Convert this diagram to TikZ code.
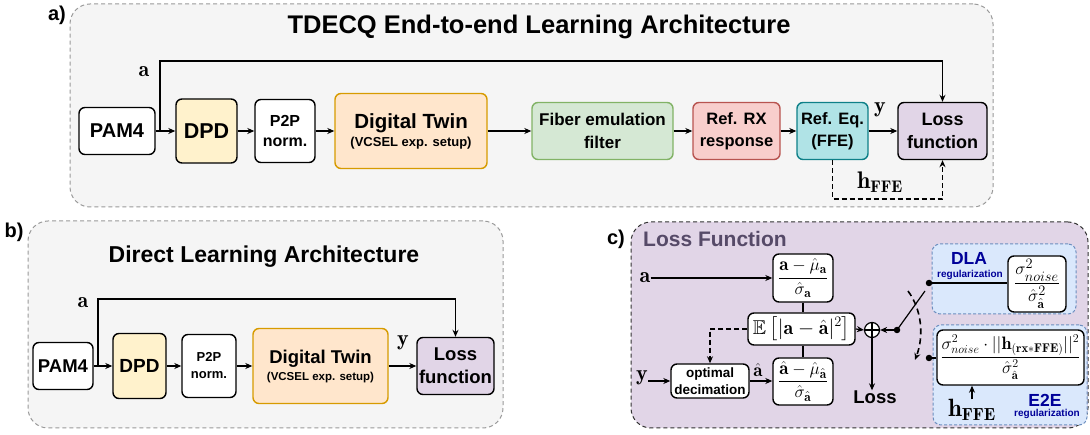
\documentclass[tikz,border=0pt]{standalone}
\usepackage{amsmath,amssymb}
\usepackage{fontspec}
\setsansfont{Liberation Sans}
\usetikzlibrary{arrows.meta}
\definecolor{panelfill}{HTML}{F5F5F5}
\definecolor{panelgray}{HTML}{9A9A9A}
\definecolor{dpdfill}{HTML}{FFF2CC}
\definecolor{dtfill}{HTML}{FFE6CC}
\definecolor{dtdraw}{HTML}{D79B00}
\definecolor{fibfill}{HTML}{D5E8D4}
\definecolor{fibdraw}{HTML}{82B366}
\definecolor{rxfill}{HTML}{F8CECC}
\definecolor{rxdraw}{HTML}{B85450}
\definecolor{ffefill}{HTML}{B0E3E6}
\definecolor{ffedraw}{HTML}{0E8088}
\definecolor{lossfill}{HTML}{E1D5E7}
\definecolor{lftitle}{HTML}{564A68}
\definecolor{regfill}{HTML}{DAE8FC}
\definecolor{regdraw}{HTML}{6C8EBF}
\definecolor{regtext}{HTML}{000099}
\definecolor{cborder}{HTML}{333333}
\newcommand\fsz[2]{\fontsize{#1}{#2}\selectfont}
\begin{document}
\begin{tikzpicture}[x=1pt,y=-1pt,
  panel/.style={draw=panelgray, fill=panelfill, dash pattern=on 4pt off 3pt, line width=1pt, rounded corners=20pt, inner sep=0pt},
  box/.style={draw, fill=white, line width=1.4pt, rounded corners=6pt, align=center, inner sep=1pt, font=\sffamily\bfseries},
  arr/.style={-{Stealth[length=7pt,width=6pt]}, line width=1.2pt},
  dsh/.style={dash pattern=on 5pt off 3pt},
  ln/.style={line width=1.2pt},
  lbl/.style={inner sep=0pt, font=\sffamily\bfseries},
  mlbl/.style={inner sep=0pt, font=\fsz{22}{24}},
  reglbl/.style={inner sep=0pt, font=\sffamily\bfseries, text=regtext},
  dot/.style={circle, fill=black, inner sep=0pt, minimum size=6.5pt},
  mbox/.style={box, inner sep=0pt, font=\fsz{19}{22}},
]
\useasboundingbox (0,0) rectangle (1090,435);

% ---------------- panel a ----------------
\node[panel, minimum width=923pt, minimum height=203pt] (pA) at (531.5,105.5) {};
\node[lbl, font=\sffamily\bfseries\fsz{20}{24}] (labA) at (57,15) {a)};
\node[lbl, font=\sffamily\bfseries\fsz{25.5}{30}] (titA) at (539,27) {TDECQ End-to-end Learning Architecture};

\node[box, minimum width=76pt, minimum height=47pt, font=\sffamily\bfseries\fsz{20}{22}] (pam) at (117,131) {PAM4};
\node[box, fill=dpdfill, minimum width=61pt, minimum height=64pt, font=\sffamily\bfseries\fsz{21.5}{22}] (dpd) at (206.5,131) {DPD};
\node[box, minimum width=60pt, minimum height=63pt, font=\sffamily\bfseries\fsz{16}{20}] (p2p) at (285,131) {P2P\\norm.};
\node[box, draw=dtdraw, fill=dtfill, minimum width=152pt, minimum height=75pt, font=\sffamily\bfseries\fsz{20.5}{18}] (dt) at (411,131) {Digital Twin\\{\fsz{13}{15}(VCSEL exp. setup)}};
\node[box, draw=fibdraw, fill=fibfill, minimum width=141pt, minimum height=57pt, font=\sffamily\bfseries\fsz{17}{23}] (fib) at (602.5,131) {Fiber emulation\\filter};
\node[box, draw=rxdraw, fill=rxfill, minimum width=87pt, minimum height=57pt, font=\sffamily\bfseries\fsz{16.5}{22}] (rx) at (736.5,131) {Ref. RX\\response};
\node[box, draw=ffedraw, fill=ffefill, minimum width=71pt, minimum height=57pt, font=\sffamily\bfseries\fsz{16.5}{22}] (ffe) at (832.5,131) {Ref. Eq.\\(FFE)};
\node[box, fill=lossfill, minimum width=89pt, minimum height=57pt, font=\sffamily\bfseries\fsz{18}{23}] (loss) at (942.5,131) {Loss\\function};

\draw[arr] (pam) -- (dpd);
\draw[arr] (dpd) -- (p2p);
\draw[arr] (p2p) -- (dt);
\draw[arr] (dt) -- (fib);
\draw[arr] (fib) -- (rx);
\draw[arr] (rx) -- (ffe);
\draw[arr] (ffe) -- (loss);
\coordinate (abr) at (160,131);
\coordinate (atop) at (160,61);
\draw[arr] (abr) -- (atop) -| (loss.north);
\node[mlbl] (la) at (144,72) {$\mathbf{a}$};
\node[mlbl] (ly) at (880,110) {$\mathbf{y}$};
\coordinate (hbot) at (832.5,199);
\draw[arr, dsh] (ffe.south) -- (hbot) -| (loss.south);
\node[mlbl, font=\fsz{24}{26}] (lh) at (880,182) {$\mathbf{h_{FFE}}$};

% ---------------- panel b ----------------
\node[panel, minimum width=475pt, minimum height=207pt] (pB) at (265.5,324.5) {};
\node[lbl, font=\sffamily\bfseries\fsz{20}{24}] (labB) at (14,232) {b)};
\node[lbl, font=\sffamily\bfseries\fsz{23}{27}] (titB) at (264,257) {Direct Learning Architecture};

\node[box, minimum width=60pt, minimum height=47pt, font=\sffamily\bfseries\fsz{18.5}{22}] (pamb) at (63,366) {PAM4};
\node[box, fill=dpdfill, minimum width=53pt, minimum height=65pt, font=\sffamily\bfseries\fsz{19}{22}] (dpdb) at (139.5,366) {DPD};
\node[box, minimum width=54pt, minimum height=63pt, font=\sffamily\bfseries\fsz{13}{17}] (p2pb) at (209,366) {P2P\\norm.};
\node[box, draw=dtdraw, fill=dtfill, minimum width=135pt, minimum height=75pt, font=\sffamily\bfseries\fsz{18.5}{17}] (dtb) at (320.5,366) {Digital Twin\\{\fsz{11.5}{14}(VCSEL exp. setup)}};
\node[box, fill=lossfill, minimum width=77pt, minimum height=57pt, font=\sffamily\bfseries\fsz{18.5}{23}] (lossb) at (455.5,366) {Loss\\function};

\draw[arr] (pamb) -- (dpdb);
\draw[arr] (dpdb) -- (p2pb);
\draw[arr] (p2pb) -- (dtb);
\draw[arr] (dtb) -- (lossb);
\coordinate (bbr) at (98,366);
\coordinate (btop) at (98,299);
\draw[arr] (bbr) -- (btop) -| (lossb.north);
\node[mlbl] (lab) at (83,303) {$\mathbf{a}$};
\node[mlbl] (lyb) at (403,343) {$\mathbf{y}$};

% ---------------- panel c ----------------
\node[panel, draw=cborder, fill=lossfill, minimum width=457pt, minimum height=206pt] (pC) at (859.5,325) {};
\node[lbl, font=\sffamily\bfseries\fsz{20}{24}] (labC) at (616,239) {c)};
\node[lbl, anchor=west, text=lftitle, font=\sffamily\bfseries\fsz{21}{24}] (titC) at (643,239) {Loss Function};

\node[panel, draw=regdraw, fill=regfill, rounded corners=8pt, dash pattern=on 3pt off 2pt, minimum width=144pt, minimum height=70pt] (dla) at (1004,279) {};
\node[panel, draw=regdraw, fill=regfill, rounded corners=8pt, dash pattern=on 3pt off 2pt, minimum width=154pt, minimum height=100pt] (e2e) at (1010,375) {};

\node[mbox, minimum width=60pt, minimum height=48pt] (na) at (803,278) {$\dfrac{\mathbf{a}-\hat{\mu}_{\mathbf{a}}}{\hat{\sigma}_{\mathbf{a}}}$};
\node[mbox, minimum width=107pt, minimum height=32pt, font=\fsz{20}{22}] (ee) at (801.5,329) {$\mathbb{E}\left[|\mathbf{a}-\hat{\mathbf{a}}|^2\right]$};
\node[mbox, minimum width=60pt, minimum height=47pt] (nh) at (803,381.5) {$\dfrac{\hat{\mathbf{a}}-\hat{\mu}_{\hat{\mathbf{a}}}}{\hat{\sigma}_{\hat{\mathbf{a}}}}$};
\node[box, minimum width=78pt, minimum height=34pt, inner sep=0pt, font=\sffamily\bfseries\fsz{13.5}{17}] (od) at (710,381) {optimal\\decimation};
\node[circle, draw, line width=1.2pt, fill=white, minimum size=15pt, inner sep=0pt] (op) at (872,330) {};
\draw[ln] (op.north) -- (op.south) (op.west) -- (op.east);
\node[dot] (piv) at (897,330) {};
\node[dot] (tdot) at (929,283) {};
\node[dot] (bdot) at (929,358) {};
\coordinate (swend) at (925,291);

\node[mbox, minimum width=58pt, minimum height=56pt] (df) at (1037,284) {$\dfrac{\sigma^2_{noise}}{\hat{\sigma}^2_{\hat{\mathbf{a}}}}$};
\node[mbox, minimum width=147pt, minimum height=55pt, font=\fsz{18}{20}] (ef) at (1010.5,357.5) {$\dfrac{\sigma^2_{noise}\cdot||\mathbf{h}_{(\mathbf{rx{*}FFE})}||^2}{\hat{\sigma}^2_{\hat{\mathbf{a}}}}$};

\node[reglbl, font=\sffamily\bfseries\fsz{17.5}{20}] (dlat) at (969,258) {DLA};
\node[reglbl, font=\sffamily\bfseries\fsz{10}{12}] (dlar) at (970,275) {regularization};
\node[reglbl, font=\sffamily\bfseries\fsz{17.5}{20}] (e2et) at (1045,400) {E2E};
\node[reglbl, font=\sffamily\bfseries\fsz{10}{12}] (e2er) at (1047,414) {regularization};

\node[mlbl] (lac) at (645,278) {$\mathbf{a}$};
\node[mlbl] (lyc) at (642,378) {$\mathbf{y}$};
\node[mlbl, font=\fsz{19}{20}] (lahat) at (758,370) {$\hat{\mathbf{a}}$};
\node[mlbl, font=\fsz{25}{26}] (lhc) at (972,410) {$\mathbf{h_{FFE}}$};
\node[lbl, font=\sffamily\bfseries\fsz{18.5}{22}] (lossl) at (875,397) {Loss};

\draw[arr] (lac.east) -- (lac.east -| na.west);
\draw[arr] (lyc.east |- od.west) -- (od.west);
\draw[arr] (od) -- (od -| nh.west);
\draw[ln] (na.south) -- (na.south |- ee.north);
\draw[ln] (nh.north |- ee.south) -- (nh.north);
\draw[arr, dsh] (ee.west) -| (od.north);
\draw[arr] (ee.east) -- (op.west);
\draw[arr] (piv) -- (op.east);
\draw[arr] (op.south) -- (op.south |- lossl.north);
\draw[ln] (piv.center) -- (swend);
\draw[ln] (tdot.center) -- (df.west |- tdot.center);
\draw[ln] (bdot.center) -- (ef.west |- bdot.center);
\coordinate (cs) at (908,291);
\coordinate (ce) at (915,360);
\draw[arr, line width=1.6pt, dash pattern=on 6pt off 4pt] (cs) .. controls (922,310) and (924,336) .. (ce);
\draw[arr] (lhc.north) -- (lhc.north |- ef.south);
\end{tikzpicture}
\end{document}
